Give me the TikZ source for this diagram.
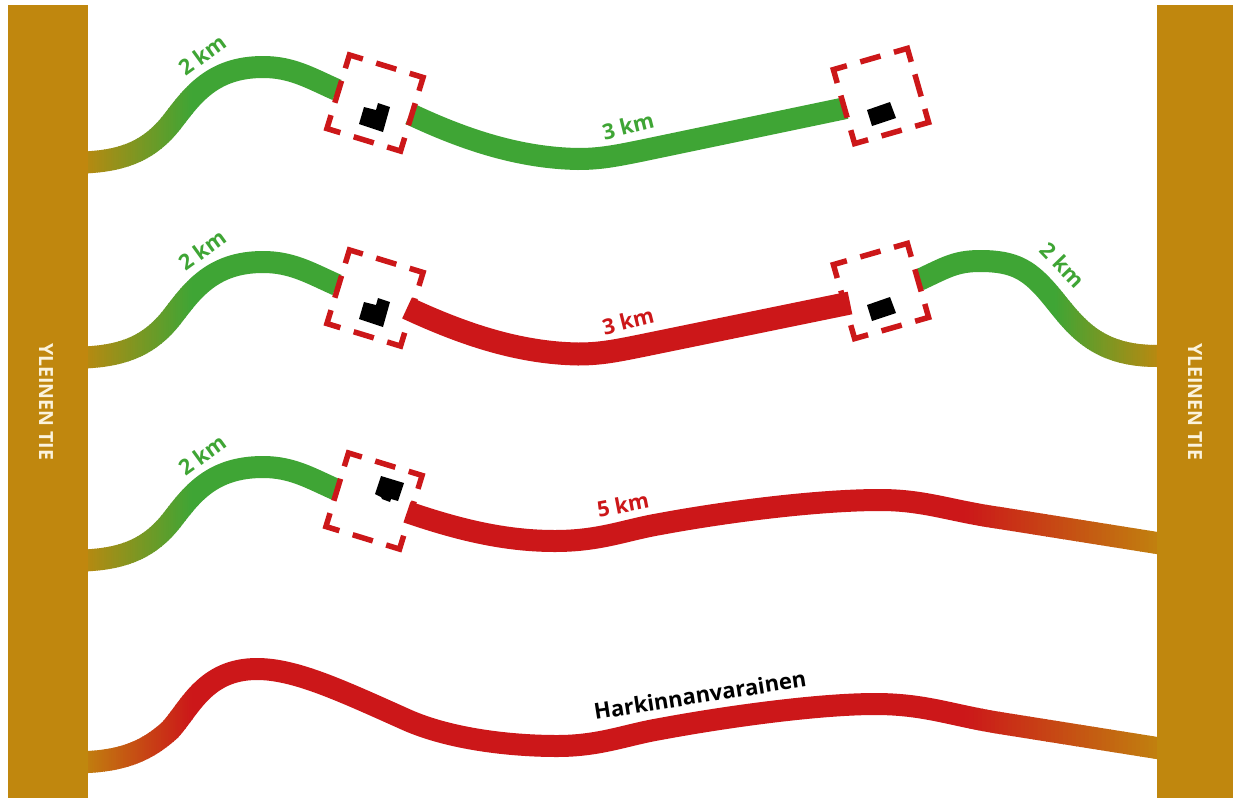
\documentclass[tikz,border=0pt]{standalone}
\usepackage{fontspec}
\setmainfont{Open Sans}
\newcommand{\labfont}{\bfseries}
\definecolor{tiebrown}{HTML}{C0870E}
\definecolor{roadgreen}{HTML}{3FA535}
\definecolor{roadred}{HTML}{CC1719}
\definecolor{tiecream}{HTML}{FBF3DD}
\tikzset{
  road/.style={line width=22pt,line cap=butt,line join=round},
  boxline/.style={draw=roadred,line width=5.5pt,line cap=butt,line join=miter},
  house/.style={fill=black,draw=none},
  tielabel/.style={text=tiecream,font=\labfont\fontsize{19.5}{19.5}\selectfont,rotate=-90,inner sep=0pt},
  kmgreen/.style={text=roadgreen,font=\labfont\fontsize{21.5}{21.5}\selectfont,inner sep=0pt},
  kmred/.style={text=roadred,font=\labfont\fontsize{21.5}{21.5}\selectfont,inner sep=0pt},
  kmblack/.style={text=black,font=\labfont\fontsize{22}{22}\selectfont,inner sep=0pt}
}
\newcommand{\gradband}[5]{%
  \foreach \i in {0,...,47}{%
    \pgfmathsetmacro\xa{#2+(#3-#2)*\i/48}%
    \pgfmathsetmacro\xb{#2+(#3-#2)*(\i+1)/48+0.7}%
    \pgfmathsetmacro\pc{100*(\i+0.5)/48}%
    \begin{scope}
      \clip (\xa,-100) rectangle (\xb,900);
      \draw[road,draw={#5!\pc!#4}] #1;
    \end{scope}
  }%
}
\newcommand{\solidband}[4]{%
  \begin{scope}
    \clip (#2,-100) rectangle (#3,900);
    \draw[road,draw=#4] #1;
  \end{scope}%
}
\newcommand{\dbox}[3]{%
  \begin{scope}[shift={(#1,#2)},rotate=#3]
    \def\h{38.5}\def\a{14}\def\d{10.5}\def\b{11.5}
    \draw[boxline] (-\h,-\h+\a) -- (-\h,-\h) -- (-\h+\a,-\h);
    \draw[boxline] (\h-\a,-\h) -- (\h,-\h) -- (\h,-\h+\a);
    \draw[boxline] (\h,\h-\a) -- (\h,\h) -- (\h-\a,\h);
    \draw[boxline] (-\h+\a,\h) -- (-\h,\h) -- (-\h,\h-\a);
    \draw[boxline] (-\d,-\h) -- (\d,-\h);
    \draw[boxline] (-\d,\h) -- (\d,\h);
    \draw[boxline] (-\h,-\b) -- (-\h,\b);
    \draw[boxline] (\h,-\b) -- (\h,\b);
  \end{scope}%
}
\def\humpA{(78,162.6) -- (88,162.3) .. controls (125,160) and (150,150) .. (172,122) .. controls (192,96) and (212,67) .. (263,67) .. controls (292,67) and (310,78) .. (337,90)}
\def\humpB{(78,357.6) -- (88,357.3) .. controls (125,355) and (150,345) .. (172,317) .. controls (192,291) and (212,262) .. (263,262) .. controls (292,262) and (310,273) .. (337,285)}
\def\humpC{(78,560.6) -- (88,560.3) .. controls (125,558) and (150,548) .. (172,520) .. controls (192,494) and (212,467) .. (263,467) .. controls (292,467) and (310,478) .. (337,490)}
\def\midA{(410,114) .. controls (465,140) and (520,158) .. (578,159) .. controls (600,159) and (615,156) .. (640,151) -- (846,108)}
\def\midB{(407,308) .. controls (465,335) and (520,353) .. (578,354) .. controls (600,354) and (615,351) .. (640,346) -- (850,303)}
\def\rightB{(919,280) .. controls (945,268) and (955,261) .. (980,261) .. controls (1015,261) and (1030,270) .. (1052,297) .. controls (1075,325) and (1095,356) .. (1157,356) -- (1170,356)}
\def\longC{(407,512) .. controls (465,532) and (510,541) .. (555,541) .. controls (600,541) and (625,530) .. (660,524) .. controls (730,511) and (820,500) .. (880,500) .. controls (925,500) and (950,511) .. (1000,518) -- (1157,543) -- (1170,545)}
\def\longD{(78,762.5) -- (88,762) .. controls (125,760) and (148,750) .. (170,730) .. controls (190,708) and (205,669) .. (257,669) .. controls (295,669) and (340,690) .. (407,720) .. controls (450,739) and (510,746) .. (557,746) .. controls (600,746) and (625,735) .. (660,729) .. controls (730,716) and (820,704) .. (875,704) .. controls (925,704) and (950,715) .. (1000,723) -- (1157,748) -- (1170,750)}
\begin{document}
\begin{tikzpicture}[x=1pt,y=-1pt]
\useasboundingbox (0,0) rectangle (1233,798);
\fill[white] (0,0) rectangle (1233,798);
% roads
\gradband{\humpA}{78}{192}{tiebrown}{roadgreen}
\solidband{\humpA}{192}{400}{roadgreen}
\gradband{\humpB}{78}{192}{tiebrown}{roadgreen}
\solidband{\humpB}{192}{400}{roadgreen}
\gradband{\humpC}{78}{192}{tiebrown}{roadgreen}
\solidband{\humpC}{192}{400}{roadgreen}
\draw[road,draw=roadgreen] \midA;
\draw[road,line width=23pt,draw=roadred] \midB;
\solidband{\rightB}{900}{1055}{roadgreen}
\gradband{\rightB}{1055}{1165}{roadgreen}{tiebrown}
\solidband{\longC}{400}{965}{roadred}
\gradband{\longC}{965}{1170}{roadred}{tiebrown}
\gradband{\longD}{78}{192}{tiebrown}{roadred}
\solidband{\longD}{192}{965}{roadred}
\gradband{\longD}{965}{1170}{roadred}{tiebrown}
% boxes
\dbox{375}{103}{-17}
\dbox{881}{96}{16}
\dbox{375}{298}{-17}
\dbox{881}{291}{16}
\dbox{374}{501}{-17}
% houses
\fill[house] (364,107) -- (376,110) -- (378,103) -- (390,107) -- (383,132) -- (359,124) -- cycle;
\fill[house] (364,302) -- (376,305) -- (378,298) -- (390,302) -- (383,327) -- (359,319) -- cycle;
\fill[house] (867,110) -- (890,102) -- (896,118) -- (872,126) -- cycle;
\fill[house] (867,305) -- (890,297) -- (896,313) -- (872,321) -- cycle;
\fill[house] (381,476) -- (404,483) -- (398,501) -- (391,499) -- (390,502) -- (382,499) -- (381,497) -- (375,494) -- cycle;
% bars
\fill[tiebrown] (8,5) rectangle (88,798);
\fill[tiebrown] (1157,5) rectangle (1233,798);
\node[tielabel] (tieL) at (46,401.5) {YLEINEN TIE};
\node[tielabel] (tieR) at (1195,401.5) {YLEINEN TIE};
% labels
\node[kmgreen,rotate=36] (a1) at (202,55) {2 km};
\node[kmgreen,rotate=14] (a2) at (628,126) {3 km};
\node[kmgreen,rotate=36] (b1) at (202,250) {2 km};
\node[kmred,rotate=14] (b2) at (628,321) {3 km};
\node[kmgreen,rotate=-46] (b3) at (1063,265) {2 km};
\node[kmgreen,rotate=36] (c1) at (202,455) {2 km};
\node[kmred,rotate=11] (c2) at (623,505) {5 km};
\node[kmblack,rotate=9] (d1) at (700,695) {Harkinnanvarainen};
\end{tikzpicture}
\end{document}
